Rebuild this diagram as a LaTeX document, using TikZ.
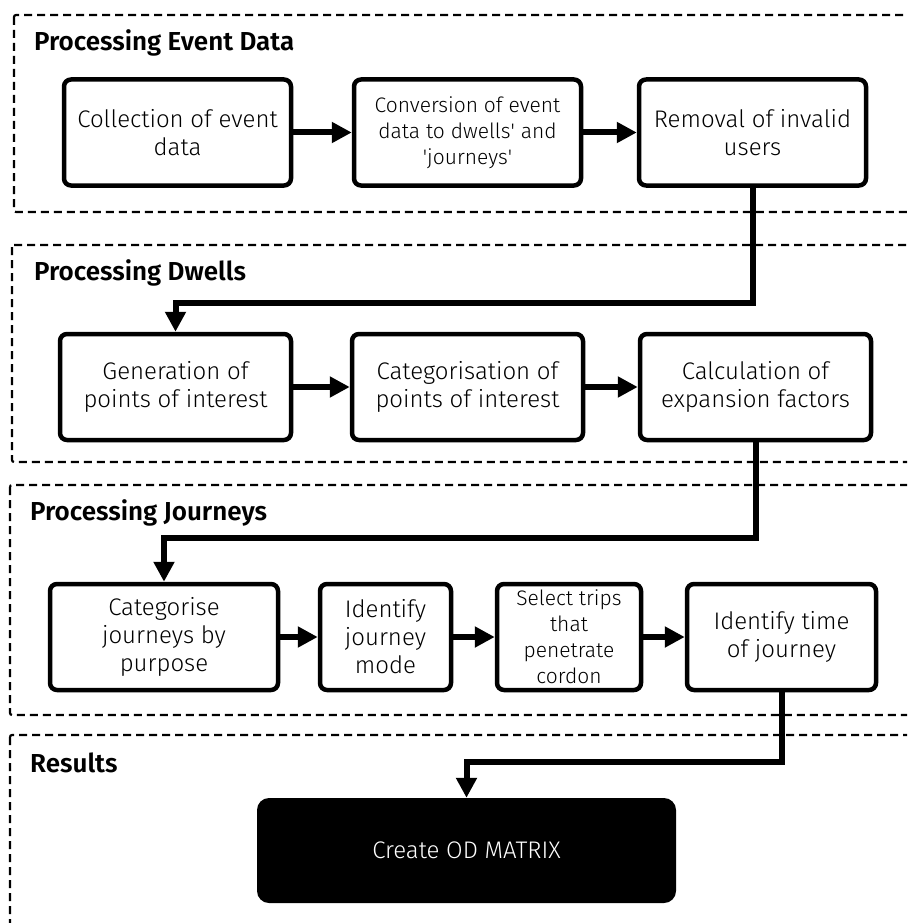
\documentclass[tikz,border=0pt]{standalone}
\usepackage{fontspec}
\setmainfont{Fira Sans}[UprightFont={* Light}, BoldFont={* SemiBold}]
\usetikzlibrary{arrows.meta}
\begin{document}
\begin{tikzpicture}[x=1pt, y=-1pt, line join=round, font=\fontsize{24}{28}\selectfont,
  >={Triangle[length=20pt,width=20pt]},
  panel/.style={line width=2.2pt, dash pattern=on 8pt off 5pt, rounded corners=2pt},
  title/.style={anchor=west, inner sep=0pt, font=\fontsize{26}{30}\selectfont\bfseries},
  stage/.style={draw, line width=4.5pt, rounded corners=7pt, align=center, inner sep=0pt, minimum height=106pt},
  small/.style={font=\fontsize{21}{26}\selectfont},
  result/.style={fill=black, text=white, rounded corners=12pt, align=center, minimum width=419pt, minimum height=105pt, font=\fontsize{24}{28}\selectfont},
  link/.style={->, line width=6pt, line join=miter}]
\def \W{907};
\def \H{923};
\useasboundingbox (0,0) rectangle (\W,\H);
\clip (0,0) rectangle (\W,\H);
\draw[panel] (14,15) rectangle (940,212);
\draw[panel] (12,245) rectangle (940,462);
\draw[panel] (10,485) rectangle (940,715);
\draw[panel] (10,735) rectangle (940,960);
\node[title] (tevent) at (34,43) {Processing Event Data};
\node[title] (tdwell) at (34,273) {Processing Dwells};
\node[title] (tjourney) at (30,513) {Processing Journeys};
\node[title] (tresult) at (30,763) {Results};
\node[stage, minimum width=227pt] (collect) at (177.5,132.5) {Collection of event\\data};
\node[stage, small, minimum width=227pt] (convert) at (467.5,132.5) {Conversion of event\\data to dwells\textquotesingle{} and\\\textquotesingle journeys\textquotesingle};
\node[stage, minimum width=227pt] (remove) at (752.5,132.5) {Removal of invalid\\users};
\node[stage, minimum width=231pt] (generate) at (175.5,387) {Generation of\\points of interest};
\node[stage, minimum width=231pt] (categorise) at (467.5,387) {Categorisation of\\points of interest};
\node[stage, minimum width=231pt] (expand) at (755.5,387) {Calculation of\\expansion factors};
\node[stage, minimum width=228pt] (purpose) at (164,637) {Categorise\\journeys by\\purpose};
\node[stage, minimum width=131pt] (mode) at (385.5,637) {Identify\\journey\\mode};
\node[stage, small, minimum width=144pt] (cordon) at (569,637) {Select trips\\that\\penetrate\\cordon};
\node[stage, minimum width=189pt] (timing) at (781.5,637) {Identify time\\of journey};
\node[result] (odmatrix) at (466.5,850.5) {Create OD MATRIX};
\coordinate (k1) at (460,303);
\coordinate (k2) at (460,538);
\coordinate (k3) at (620,762);
\draw[link] (collect) -- (convert);
\draw[link] (convert) -- (remove);
\draw[link] (remove.south) |- (k1) -| (generate.north);
\draw[link] (generate) -- (categorise);
\draw[link] (categorise) -- (expand);
\draw[link] (expand.south) |- (k2) -| (purpose.north);
\draw[link] (purpose) -- (mode);
\draw[link] (mode) -- (cordon);
\draw[link] (cordon) -- (timing);
\draw[link] (timing.south) |- (k3) -| (odmatrix.north);
\end{tikzpicture}
\end{document}
